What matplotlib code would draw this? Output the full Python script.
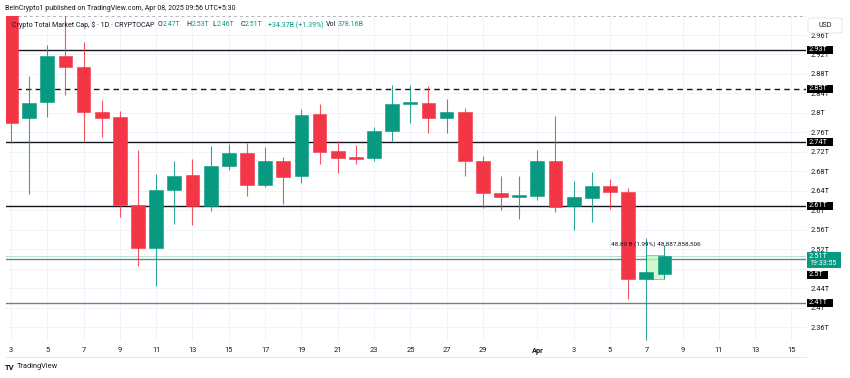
import matplotlib
matplotlib.use("Agg")
import matplotlib.pyplot as plt
import matplotlib.transforms as mtransforms
from matplotlib.patches import Rectangle, FancyBboxPatch

plt.rcParams['font.family'] = ['Roboto', 'DejaVu Sans']

# daily candles, Mar 3 -> Apr 8 2025, values in trillions USD
day_labels = ['Mar 3', 'Mar 4', 'Mar 5', 'Mar 6', 'Mar 7', 'Mar 8', 'Mar 9', 'Mar 10',
              'Mar 11', 'Mar 12', 'Mar 13', 'Mar 14', 'Mar 15', 'Mar 16', 'Mar 17',
              'Mar 18', 'Mar 19', 'Mar 20', 'Mar 21', 'Mar 22', 'Mar 23', 'Mar 24',
              'Mar 25', 'Mar 26', 'Mar 27', 'Mar 28', 'Mar 29', 'Mar 30', 'Mar 31',
              'Apr 1', 'Apr 2', 'Apr 3', 'Apr 4', 'Apr 5', 'Apr 6', 'Apr 7', 'Apr 8']
opens = [3.12, 2.79, 2.822, 2.917, 2.895, 2.803, 2.791, 2.612, 2.522, 2.642, 2.672, 2.609,
         2.692, 2.717, 2.652, 2.701, 2.671, 2.797, 2.721, 2.709, 2.707, 2.763, 2.818, 2.82,
         2.79, 2.801, 2.701, 2.635, 2.627, 2.629, 2.702, 2.609, 2.626, 2.651, 2.638, 2.459, 2.47]
highs = [3.20, 2.876, 2.94, 3.01, 2.945, 2.827, 2.805, 2.724, 2.675, 2.702, 2.705, 2.732,
         2.736, 2.738, 2.731, 2.71, 2.809, 2.819, 2.742, 2.735, 2.771, 2.858, 2.858, 2.855,
         2.828, 2.811, 2.712, 2.671, 2.671, 2.725, 2.794, 2.66, 2.679, 2.665, 2.647, 2.543, 2.53]
lows = [2.739, 2.634, 2.792, 2.837, 2.742, 2.75, 2.587, 2.486, 2.445, 2.573, 2.57, 2.599,
        2.682, 2.63, 2.649, 2.613, 2.657, 2.696, 2.677, 2.696, 2.701, 2.743, 2.78, 2.758,
        2.758, 2.671, 2.604, 2.6, 2.582, 2.622, 2.597, 2.56, 2.576, 2.602, 2.418, 2.334, 2.46]
closes = [2.78, 2.821, 2.916, 2.895, 2.803, 2.79, 2.612, 2.522, 2.642, 2.671, 2.609, 2.691,
          2.717, 2.652, 2.701, 2.669, 2.795, 2.719, 2.708, 2.706, 2.763, 2.818, 2.82, 2.79,
          2.801, 2.701, 2.636, 2.627, 2.63, 2.702, 2.608, 2.628, 2.651, 2.637, 2.459, 2.473, 2.507]

# horizontal levels drawn on the chart
solid_levels = [2.93, 2.74, 2.61]
dashed_level = 2.85
gray_levels = [2.5, 2.41]
last_price = 2.507

# axis ticks (2.48T sits under the price tags, so no label there)
price_ticks = [2.36, 2.40, 2.44, 2.48, 2.52, 2.56, 2.60, 2.64, 2.68, 2.72, 2.76, 2.80,
               2.84, 2.88, 2.92, 2.96]
price_tick_labels = ['2.36T', '2.4T', '2.44T', '', '2.52T', '2.56T', '2.6T', '2.64T',
                     '2.68T', '2.72T', '2.76T', '2.8T', '2.84T', '2.88T', '2.92T', '2.96T']
time_ticks = [0, 2, 4, 6, 8, 10, 12, 14, 16, 18, 20, 22, 24, 26, 29, 31, 33, 35, 37, 39, 41, 43]
time_tick_labels = ['3', '5', '7', '9', '11', '13', '15', '17', '19', '21', '23', '25', '27',
                    '29', 'Apr', '3', '5', '7', '9', '11', '13', '15']

GREEN = '#089981'
RED = '#F23645'
DARK = '#131722'

W, H = 850, 378
fig = plt.figure(figsize=(W / 100, H / 100), dpi=100)
pane_l, pane_r, pane_t, pane_b = 6, 806, 16, 341
ax = fig.add_axes([pane_l / W, 1 - pane_b / H, (pane_r - pane_l) / W, (pane_b - pane_t) / H])

xs = list(range(len(day_labels)))
cols = [GREEN if c >= o else RED for o, c in zip(opens, closes)]
ax.vlines(xs, lows, highs, colors=cols, linewidth=0.8, alpha=0.85, zorder=3)
bottoms = [min(o, c) for o, c in zip(opens, closes)]
heights = [max(abs(c - o), 0.004) for o, c in zip(opens, closes)]
ax.bar(xs, heights, bottom=bottoms, width=0.76, color=cols, edgecolor=cols, linewidth=0.4, zorder=4)

for lv in solid_levels:
    ax.axhline(lv, color=DARK, linewidth=1.0, zorder=2)
ax.axhline(dashed_level, color=DARK, linewidth=1.0, dashes=(4, 3), zorder=2)
for lv in gray_levels:
    ax.axhline(lv, color='#787b86', linewidth=1.0, zorder=2)
ax.axhline(last_price, color=GREEN, linewidth=0.7, alpha=0.3, zorder=2)

# measuring box on the last two bars
ax.add_patch(Rectangle((35, 2.459), 1, 0.049, facecolor='#c8f7c5', edgecolor='#5fd35f',
                       linewidth=0.7, alpha=0.8, zorder=2.5))
ax.text(35.55, 2.531, '48.89 B (1.99%) 48,887,858,506', fontsize=4.6, color=DARK,
        ha='center', va='center', zorder=6)

ax.set_xlim((pane_l - 11) / 18.15, (pane_r - 11) / 18.15)
ax.set_ylim(2.332, 2.999)
ax.set_facecolor('white')
for s in ax.spines.values():
    s.set_visible(False)
ax.axhline(2.999, color='#b2b5be', linewidth=0.7, dashes=(3, 3), zorder=1)

ax.set_xticks(time_ticks)
ax.set_xticklabels(time_tick_labels, fontsize=5.3, color=DARK)
for lbl in ax.get_xticklabels():
    if lbl.get_text() == 'Apr':
        lbl.set_fontweight('bold')
ax.yaxis.tick_right()
ax.set_yticks(price_ticks)
ax.set_yticklabels(price_tick_labels, fontsize=5.3, color=DARK)
ax.tick_params(length=0, axis='x', pad=4)
ax.tick_params(length=0, axis='y', pad=3)
ax.grid(color='#f0f3fa', linewidth=0.7)
ax.set_axisbelow(True)

# price tags on the right scale
blend = mtransforms.blended_transform_factory(ax.transAxes, ax.transData)
px_per_t = 487.0
tag_h = 8 / px_per_t


def tag(value, text, right_px=833, face='black'):
    x0 = (pane_r + 0.7 - pane_l) / (pane_r - pane_l)
    x1 = (right_px - pane_l) / (pane_r - pane_l)
    ax.add_patch(Rectangle((x0, value - tag_h / 2), x1 - x0, tag_h, transform=blend,
                           facecolor=face, edgecolor='none', clip_on=False, zorder=10))
    ax.text((809 - pane_l) / (pane_r - pane_l), value, text, transform=blend, fontsize=5.3,
            color='white', ha='left', va='center', clip_on=False, zorder=11)


tag(2.93, '2.93T')
tag(2.85, '2.85T')
tag(2.74, '2.74T')
tag(2.61, '2.61T')
tag(2.41, '2.41T')
tag(2.8 - (274.5 - 113) / px_per_t, '2.5T', right_px=828)

# live price tag
gx0 = (pane_r + 0.7 - pane_l) / (pane_r - pane_l)
gx1 = (840.7 - pane_l) / (pane_r - pane_l)
g_lo = 2.8 - (268 - 113) / px_per_t
g_hi = 2.8 - (252 - 113) / px_per_t
ax.add_patch(Rectangle((gx0, g_lo), gx1 - gx0, g_hi - g_lo, transform=blend, facecolor=GREEN,
                       edgecolor='none', clip_on=False, zorder=10))
ax.text((809 - pane_l) / (pane_r - pane_l), 2.8 - (256 - 113) / px_per_t, '2.51T', transform=blend,
        fontsize=5.3, color='white', ha='left', va='center', clip_on=False, zorder=11)
ax.text((809 - pane_l) / (pane_r - pane_l), 2.8 - (263.6 - 113) / px_per_t, '19:33:55',
        transform=blend, fontsize=5.0, color='white', ha='left', va='center', clip_on=False, zorder=11)

# USD box
fig.patches.append(FancyBboxPatch((808 / W, 1 - 33 / H), 34 / W, 15 / H,
                                  boxstyle='round,pad=0,rounding_size=0.004',
                                  transform=fig.transFigure, facecolor='white',
                                  edgecolor='#e0e3eb', linewidth=0.6, zorder=5))
fig.text(825 / W, 1 - 25.5 / H, 'USD', fontsize=5.0, color=DARK, ha='center', va='center', zorder=6)

# bottom border of the time scale
fig.add_artist(plt.Line2D([pane_l / W, pane_r / W], [1 - 357 / H, 1 - 357 / H],
                          transform=fig.transFigure, color='#e0e3eb', linewidth=0.6))

# header
fig.text(5 / W, 1 - 9 / H, 'BeInCrypto1 published on TradingView.com, Apr 08, 2025 09:56 UTC+5:30',
         fontsize=5.05, color=DARK, ha='left', va='center')
header = [(11.5, 'Crypto Total Market Cap, $ · 1D · CRYPTOCAP', DARK),
          (157.5, 'O', DARK), (163, '2.47T', GREEN),
          (186.5, 'H', DARK), (192, '2.53T', GREEN),
          (212.5, 'L', DARK), (217, '2.46T', GREEN),
          (240.5, 'C', DARK), (245, '2.51T', GREEN),
          (268, '+34.37B (+1.39%)', GREEN),
          (326, 'Vol', DARK), (338, '378.16B', GREEN)]
for hx, txt, c in header:
    fig.text(hx / W, 1 - 25 / H, txt, fontsize=5.0, color=c, ha='left', va='center', zorder=7)

# footer logo
fig.text(5 / W, 1 - 367 / H, 'TV', fontsize=5.5, fontweight='bold', color=DARK, ha='left', va='center')
fig.text(17 / W, 1 - 367 / H, 'TradingView', fontsize=5.3, color=DARK, ha='left', va='center')

fig.savefig('out.png', dpi=100, facecolor='white')
